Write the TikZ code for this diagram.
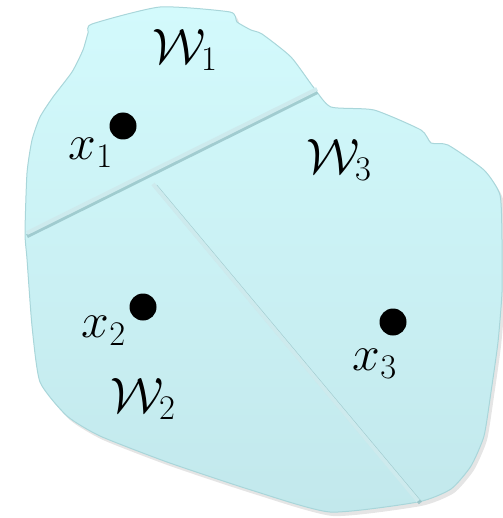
\documentclass[tikz,border=0pt]{standalone}
\definecolor{celltop}{HTML}{D3FAFC}
\definecolor{cellbot}{HTML}{C2E8EC}
\definecolor{celledge}{HTML}{A9D6DA}
\definecolor{divlight}{HTML}{CDEAED}
\definecolor{divdark}{HTML}{92BFC3}
\tikzset{
  dot/.style={circle, fill=black, inner sep=0pt, minimum size=13.5pt},
  lbl/.style={inner sep=0pt, font=\fontsize{25}{30}\selectfont},
  divshadow/.style={draw=divdark, line width=2pt, opacity=0.75},
  divline/.style={draw=divlight, line width=2pt},
}
\begin{document}
\begin{tikzpicture}[x=0.5pt, y=-0.5pt]
\useasboundingbox (0,0) rectangle (502,518);
% region outline with shadow
\fill[black, opacity=0.10, xshift=1.5pt, yshift=-2pt]
  plot[smooth cycle, tension=0.35] coordinates {
  (88,33) (92,24) (160,7) (230,12) (237,22) (251,30) (262,34) (291,57) (314,88)
  (331,107) (374,110) (421,130) (431,143) (448,145) (484,170) (500,195) (502,240)
  (502,292) (498,342) (491,392) (484,436) (471,466) (451,489) (418,502) (330,512)
  (251,490) (167,462) (100,436) (67,416) (40,382) (32,326) (27,259) (25,233)
  (27,173) (32,140) (40,117) (53,97) (72,72) (83,50)};
\path[draw=celledge, line width=0.5pt, top color=celltop, bottom color=cellbot]
  plot[smooth cycle, tension=0.35] coordinates {
  (88,33) (92,24) (160,7) (230,12) (237,22) (251,30) (262,34) (291,57) (314,88)
  (331,107) (374,110) (421,130) (431,143) (448,145) (484,170) (500,195) (502,240)
  (502,292) (498,342) (491,392) (484,436) (471,466) (451,489) (418,502) (330,512)
  (251,490) (167,462) (100,436) (67,416) (40,382) (32,326) (27,259) (25,233)
  (27,173) (32,140) (40,117) (53,97) (72,72) (83,50)};
% dividing lines
\coordinate (a1) at (27,233);
\coordinate (a2) at (317,89);
\coordinate (b1) at (153,184);
\coordinate (b2) at (418,501);
\draw[divshadow, transform canvas={yshift=-1.6pt}] (a1) -- (a2);
\draw[divline] (a1) -- (a2);
\draw[divshadow, transform canvas={xshift=1.2pt,yshift=-1pt}] (b1) -- (b2);
\draw[divline] (b1) -- (b2);
% sites
\node[dot] (p1) at (123,126) {};
\node[dot] (p2) at (143,307) {};
\node[dot] (p3) at (393,322) {};
\node[lbl] (l1) at (91,153) {$x_1$};
\node[lbl] (l2) at (104,331) {$x_2$};
\node[lbl] (l3) at (375,364) {$x_3$};
\node[lbl] (w1) at (185,50) {$\mathcal{W}_1$};
\node[lbl] (w3) at (339,160) {$\mathcal{W}_3$};
\node[lbl] (w2) at (143,399) {$\mathcal{W}_2$};
\end{tikzpicture}
\end{document}
